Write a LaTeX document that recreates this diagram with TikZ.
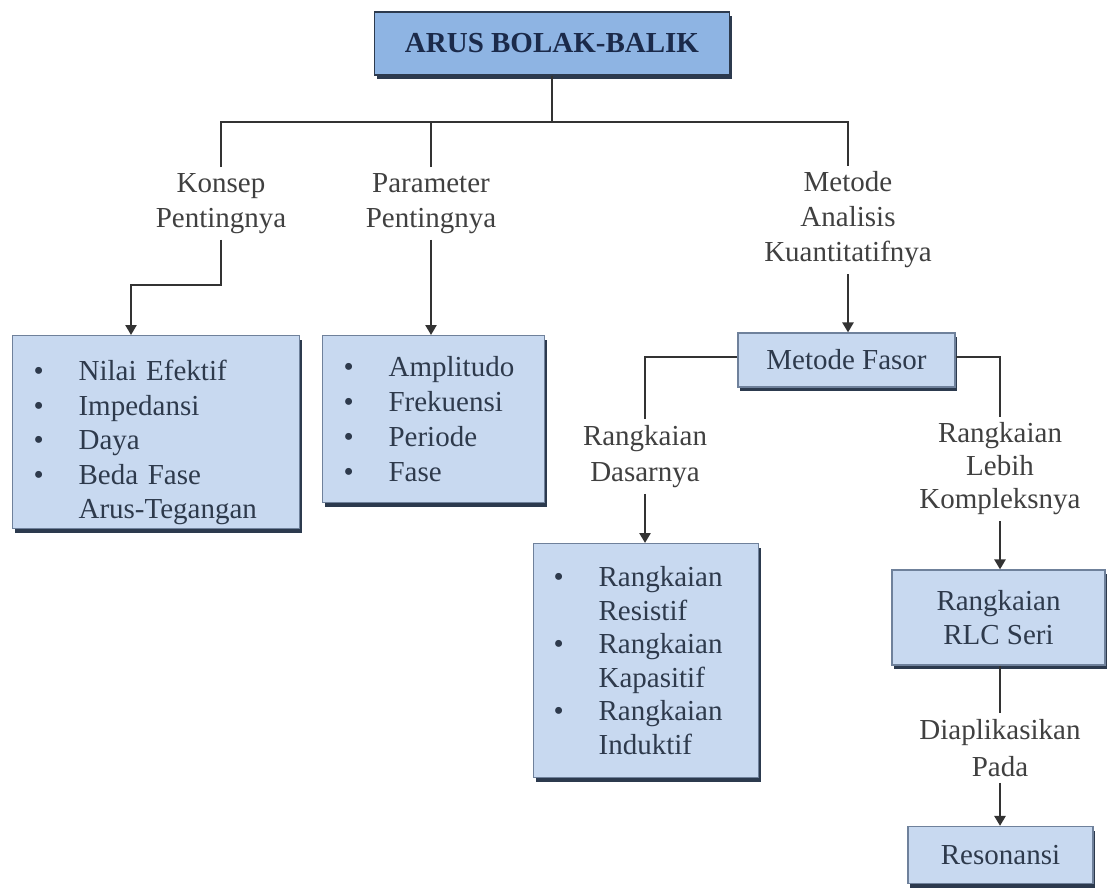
\documentclass[tikz,border=0pt]{standalone}
\usepackage{fontspec}
\setmainfont{Liberation Serif}
\usetikzlibrary{arrows.meta,shadows}
\definecolor{titlefill}{HTML}{8EB4E3}
\definecolor{titletext}{HTML}{1B2A4A}
\definecolor{boxfill}{HTML}{C8D9F0}
\definecolor{boxedge}{HTML}{6F819B}
\definecolor{boxtext}{HTML}{2E3A4C}
\definecolor{shadowc}{HTML}{2C3A4E}
\definecolor{linec}{HTML}{333333}
\definecolor{lblc}{HTML}{404040}
\newcommand\bitem[1]{\makebox[45pt][l]{\textbullet}#1}
\newcommand\citem[1]{\hspace*{45pt}#1}
\begin{document}
\begin{tikzpicture}[x=1pt,y=-1pt,
  conn/.style={draw=linec, line width=2.9pt},
  arr/.style={conn, -{Triangle[width=11pt,length=10pt]}},
  lbl/.style={align=center, text=lblc, font=\fontsize{29}{35}\selectfont, inner sep=6pt},
  bluebox/.style={draw=boxedge, line width=1.2pt, fill=boxfill, text=boxtext,
     font=\fontsize{29}{35}\selectfont, inner sep=0pt,
     drop shadow={shadow xshift=2pt, shadow yshift=-4pt, fill=shadowc, opacity=1}},
  titlebox/.style={bluebox, fill=titlefill, text=titletext, draw=shadowc,
     font=\fontsize{29}{35}\selectfont\bfseries},
  listbox/.style={bluebox, anchor=north west, align=left}
]
\useasboundingbox (0,0) rectangle (1113,889);
\fill[white] (0,0) rectangle (1113,889);

% boxes
\node[titlebox, minimum width=355pt, minimum height=63pt] (title) at (552,43.5) {ARUS BOLAK-BALIK};

\node[listbox, minimum width=286pt, minimum height=193pt, text width=245pt, inner xsep=21pt,
      font=\fontsize{29}{34.5}\selectfont] (b1) at (12,335)
 {\rule{0pt}{42pt}\bitem{Nilai Efektif}\\ \bitem{Impedansi}\\ \bitem{Daya}\\ \bitem{Beda Fase}\\ \citem{Arus-Tegangan}};

\node[listbox, minimum width=221pt, minimum height=167pt, text width=180pt, inner xsep=21pt] (b2) at (322,335)
 {\bitem{Amplitudo}\\ \bitem{Frekuensi}\\ \bitem{Periode}\\ \bitem{Fase}};

\node[bluebox, minimum width=217pt, minimum height=54pt] (fasor) at (846.5,360) {Metode Fasor};

\node[listbox, minimum width=225pt, minimum height=234pt, text width=185pt, inner xsep=20pt,
      font=\fontsize{29}{33.5}\selectfont] (b3) at (533,543)
 {\bitem{Rangkaian}\\ \citem{Resistif}\\ \bitem{Rangkaian}\\ \citem{Kapasitif}\\ \bitem{Rangkaian}\\ \citem{Induktif}};

\node[bluebox, minimum width=213pt, minimum height=95pt, align=center,
      font=\fontsize{29}{34}\selectfont] (rlc) at (998.5,617.5) {Rangkaian\\RLC Seri};

\node[bluebox, minimum width=185pt, minimum height=57pt] (res) at (1000.5,855) {Resonansi};

% labels
\node[lbl] (kl) at (221,203.5) {Konsep\\Pentingnya};
\node[lbl] (pl) at (431,203.5) {Parameter\\Pentingnya};
\node[lbl] (ml) at (848,220) {Metode\\Analisis\\Kuantitatifnya};
\node[lbl, font=\fontsize{29}{36}\selectfont] (dl) at (645,456.5) {Rangkaian\\Dasarnya};
\node[lbl, font=\fontsize{29}{33}\selectfont] (kk) at (1000,469) {Rangkaian\\Lebih\\Kompleksnya};
\node[lbl, font=\fontsize{29}{37}\selectfont] (dp) at (1000,748) {Diaplikasikan\\Pada};

% connectors
\coordinate (bus) at (0,122);
\coordinate (kb) at (131,285);
\draw[conn] (title.south) -- (title.south |- bus);
\draw[conn] (kl.north) |- (ml.north |- bus) -- (ml.north);
\draw[conn] (pl.north) -- (pl.north |- bus);
\draw[arr] (kl.south) |- (kb) -- (kb |- b1.north);
\draw[arr] (pl.south) -- (pl.south |- b2.north);
\draw[arr] (ml.south) -- (ml.south |- fasor.north);
\draw[conn] ([yshift=3pt]fasor.west) -| (dl.north);
\draw[conn] ([yshift=3pt]fasor.east) -| (kk.north);
\draw[arr] (dl.south) -- (dl.south |- b3.north);
\draw[arr] (kk.south) -- (kk.south |- rlc.north);
\draw[conn] (dp.north |- rlc.south) -- (dp.north);
\draw[arr] (dp.south) -- (dp.south |- res.north);
\end{tikzpicture}
\end{document}
